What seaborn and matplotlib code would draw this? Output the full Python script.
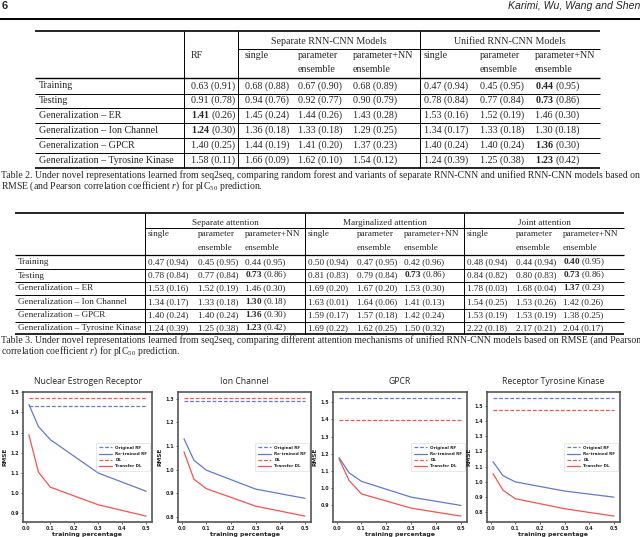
import numpy as np
import pandas as pd
import seaborn as sns
import matplotlib.pyplot as plt

sns.set_style('white')
plt.rcParams['font.family'] = ['Liberation Serif', 'DejaVu Sans']
plt.rcParams['mathtext.fontset'] = 'custom'
plt.rcParams['mathtext.rm'] = 'Liberation Serif'
plt.rcParams['mathtext.it'] = 'Liberation Serif:italic'
plt.rcParams['mathtext.bf'] = 'Liberation Serif:bold'

# ---- table data ("*" marks a bold RMSE) ----
row_labels = ['Training', 'Testing', 'Generalization \u2013 ER', 'Generalization \u2013 Ion Channel',
              'Generalization \u2013 GPCR', 'Generalization \u2013 Tyrosine Kinase']
sub_top = ['single', 'parameter', 'parameter+NN']
sub_bot = ['', 'ensemble', 'ensemble']

t2_groups = ['Separate RNN-CNN Models', 'Unified RNN-CNN Models']
t2_rows = [
    ['0.63 (0.91)', '0.68 (0.88)', '0.67 (0.90)', '0.68 (0.89)', '0.47 (0.94)', '0.45 (0.95)', '*0.44 (0.95)'],
    ['0.91 (0.78)', '0.94 (0.76)', '0.92 (0.77)', '0.90 (0.79)', '0.78 (0.84)', '0.77 (0.84)', '*0.73 (0.86)'],
    ['*1.41 (0.26)', '1.45 (0.24)', '1.44 (0.26)', '1.43 (0.28)', '1.53 (0.16)', '1.52 (0.19)', '1.46 (0.30)'],
    ['*1.24 (0.30)', '1.36 (0.18)', '1.33 (0.18)', '1.29 (0.25)', '1.34 (0.17)', '1.33 (0.18)', '1.30 (0.18)'],
    ['1.40 (0.25)', '1.44 (0.19)', '1.41 (0.20)', '1.37 (0.23)', '1.40 (0.24)', '1.40 (0.24)', '*1.36 (0.30)'],
    ['1.58 (0.11)', '1.66 (0.09)', '1.62 (0.10)', '1.54 (0.12)', '1.24 (0.39)', '1.25 (0.38)', '*1.23 (0.42)'],
]

t3_groups = ['Separate attention', 'Marginalized attention', 'Joint attention']
t3_rows = [
    ['0.47 (0.94)', '0.45 (0.95)', '0.44 (0.95)', '0.50 (0.94)', '0.47 (0.95)', '0.42 (0.96)', '0.48 (0.94)', '0.44 (0.94)', '*0.40 (0.95)'],
    ['0.78 (0.84)', '0.77 (0.84)', '*0.73 (0.86)', '0.81 (0.83)', '0.79 (0.84)', '*0.73 (0.86)', '0.84 (0.82)', '0.80 (0.83)', '*0.73 (0.86)'],
    ['1.53 (0.16)', '1.52 (0.19)', '1.46 (0.30)', '1.69 (0.20)', '1.67 (0.20)', '1.53 (0.30)', '1.78 (0.03)', '1.68 (0.04)', '*1.37 (0.23)'],
    ['1.34 (0.17)', '1.33 (0.18)', '*1.30 (0.18)', '1.63 (0.01)', '1.64 (0.06)', '1.41 (0.13)', '1.54 (0.25)', '1.53 (0.26)', '1.42 (0.26)'],
    ['1.40 (0.24)', '1.40 (0.24)', '*1.36 (0.30)', '1.59 (0.17)', '1.57 (0.18)', '1.42 (0.24)', '1.53 (0.19)', '1.53 (0.19)', '1.38 (0.25)'],
    ['1.24 (0.39)', '1.25 (0.38)', '*1.23 (0.42)', '1.69 (0.22)', '1.62 (0.25)', '1.50 (0.32)', '2.22 (0.18)', '2.17 (0.21)', '2.04 (0.17)'],
]

cap2 = ['Table 2. Under novel representations learned from seq2seq, comparing random forest and variants of separate RNN-CNN and unified RNN-CNN models based on',
        'RMSE (and Pearson correlation coefficient $r$) for pIC$_{50}$ prediction.']
cap3 = ['Table 3. Under novel representations learned from seq2seq, comparing different attention mechanisms of unified RNN-CNN models based on RMSE (and Pearson',
        'correlation coefficient $r$) for pIC$_{50}$ prediction.']

# ---- line plot data ----
pct = [0.01, 0.05, 0.1, 0.3, 0.5]
titles = ['Nuclear Estrogen Receptor', 'Ion Channel', 'GPCR', 'Receptor Tyrosine Kinase']
orig_rf = [1.43, 1.289, 1.525, 1.55]
dl = [1.472, 1.303, 1.395, 1.472]
retrained_rf = [[1.44, 1.33, 1.265, 1.10, 1.01],
                [1.13, 1.04, 0.998, 0.918, 0.879],
                [1.178, 1.09, 1.04, 0.948, 0.90],
                [1.132, 1.041, 1.0, 0.94, 0.90]]
transfer_dl = [[1.29, 1.105, 1.03, 0.943, 0.887],
               [1.075, 0.96, 0.92, 0.846, 0.804],
               [1.17, 1.045, 0.967, 0.884, 0.838],
               [1.054, 0.946, 0.89, 0.824, 0.776]]
models = ['Original RF', 'Re-trained RF', 'DL', 'Transfer DL']
blue, red = '#6379cc', '#f65252'


def cell(s):
    if s.startswith('*'):
        num, rest = s[1:].split(' ', 1)
        return r'$\mathbf{' + num + '}$ ' + rest
    return s


fig = plt.figure(figsize=(6.4, 5.37), dpi=100)
page = fig.add_axes([0, 0, 1, 1])
page.set_xlim(0, 640)
page.set_ylim(537, 0)
page.axis('off')


def hline(x0, x1, y, lw=0.7):
    page.plot([x0, x1], [y, y], color='black', lw=lw, solid_capstyle='butt')


def vline(x, y0, y1, lw=0.7):
    page.plot([x, x], [y0, y1], color='black', lw=lw, solid_capstyle='butt')


# page header
page.text(2, 6, '6', fontsize=8, fontweight='bold', family='Liberation Sans', va='center')
page.text(640, 6, 'Karimi, Wu, Wang and Shen', fontsize=7.6, style='italic',
          family='Liberation Sans', va='center', ha='right')
hline(0, 640, 19, lw=1.4)

# ---- Table 2 ----
fs2 = 7.2
left2, right2 = 35, 600
vx2 = [184, 238, 420]
col2 = [191, 245, 298, 353, 424, 480, 535]
rows_y2 = [86, 100.5, 115.5, 130.5, 145.5, 160.5]
hline(left2, right2, 31, lw=1.2)
page.text((vx2[1] + vx2[2]) / 2, 42, t2_groups[0], fontsize=fs2, ha='center', va='center')
page.text((vx2[2] + right2) / 2, 42, t2_groups[1], fontsize=fs2, ha='center', va='center')
hline(vx2[1], right2, 49)
page.text(col2[0], 56, 'RF', fontsize=fs2, va='center')
for g in range(2):
    for k in range(3):
        x = col2[1 + g * 3 + k]
        page.text(x, 56, sub_top[k], fontsize=fs2, va='center')
        page.text(x, 70, sub_bot[k], fontsize=fs2, va='center')
hline(left2, right2, 78, lw=1.0)
for i, lab in enumerate(row_labels):
    y = rows_y2[i]
    page.text(left2 + 4, y, lab, fontsize=fs2, va='center')
    for j, s in enumerate(t2_rows[i]):
        page.text(col2[j], y, cell(s), fontsize=fs2, va='center')
    if i < len(row_labels) - 1:
        hline(left2, right2, y + 7.5)
hline(left2, right2, 167.5, lw=1.2)
for x in vx2:
    vline(x, 31, 167.5)
page.text(1, 170.5, '\n'.join(cap2), fontsize=7.0, va='top', linespacing=0.95)

# ---- Table 3 ----
fs3 = 6.6
left3, right3 = 15, 624
vx3 = [145, 305, 464]
col3 = [148, 198, 245, 308, 357, 404, 467, 516, 563]
rows_y3 = [262, 275.5, 288.5, 302, 315, 328]
hline(left3, right3, 213, lw=1.2)
bounds = vx3 + [right3]
for g in range(3):
    page.text((bounds[g] + bounds[g + 1]) / 2, 223, t3_groups[g], fontsize=fs3, ha='center', va='center')
    for k in range(3):
        x = col3[g * 3 + k]
        page.text(x, 234.5, sub_top[k], fontsize=fs3, va='center')
        page.text(x, 248, sub_bot[k], fontsize=fs3, va='center')
hline(vx3[0], right3, 228)
hline(left3, right3, 255, lw=0.9)
for i, lab in enumerate(row_labels):
    y = rows_y3[i]
    page.text(left3 + 3, y, lab, fontsize=fs3, va='center')
    for j, s in enumerate(t3_rows[i]):
        page.text(col3[j], y, cell(s), fontsize=fs3, va='center')
    if i < len(row_labels) - 1:
        hline(left3, right3, y + 6.6)
hline(left3, right3, 333.5, lw=1.2)
for x in vx3:
    vline(x, 213, 333.5)
page.text(1, 335, '\n'.join(cap3), fontsize=7.0, va='top', linespacing=0.95)

# ---- line plots ----
boxes = [(23, 152), (178, 311), (333, 467), (487, 620)]
top, bottom = 392, 522
for p in range(4):
    x0, x1 = boxes[p]
    ax = fig.add_axes([x0 / 640, 1 - bottom / 537, (x1 - x0) / 640, (bottom - top) / 537])
    df = pd.DataFrame({
        'pct': pct * 4,
        'rmse': [orig_rf[p]] * len(pct) + retrained_rf[p] + [dl[p]] * len(pct) + transfer_dl[p],
        'model': np.repeat(models, len(pct)),
    })
    sns.lineplot(data=df, x='pct', y='rmse', hue='model', style='model', ax=ax,
                 palette={'Original RF': blue, 'Re-trained RF': blue, 'DL': red, 'Transfer DL': red},
                 dashes={'Original RF': (3, 1.5), 'Re-trained RF': '', 'DL': (3, 1.5), 'Transfer DL': ''},
                 linewidth=0.9)
    ax.set_xticks([0.0, 0.1, 0.2, 0.3, 0.4, 0.5])
    ax.tick_params(labelsize=3.4, length=1.5, width=0.5, pad=1.5, direction='out', bottom=True, left=True)
    for t in ax.get_xticklabels() + ax.get_yticklabels():
        t.set_fontweight('bold')
        t.set_family('DejaVu Sans')
    ax.yaxis.set_major_formatter(plt.FormatStrFormatter('%.1f'))
    ax.xaxis.set_major_formatter(plt.FormatStrFormatter('%.1f'))
    ax.set_xlabel('training percentage', fontsize=4.5, fontweight='bold', family='DejaVu Sans', labelpad=0.5)
    ax.set_ylabel('RMSE', fontsize=4.2, fontweight='bold', family='DejaVu Sans', labelpad=2)
    ax.set_title(titles[p], fontsize=6.2, family='Open Sans', pad=5.5)
    for s in ax.spines.values():
        s.set_color('#555555')
        s.set_linewidth(1.2)
    leg = ax.legend(loc='center right', fontsize=3.0, handlelength=3.2, frameon=True,
                    borderpad=0.6, labelspacing=0.5, handletextpad=0.8)
    leg.get_frame().set_linewidth(0.4)
    for t in leg.get_texts():
        t.set_fontweight('bold')
        t.set_family('DejaVu Sans')

fig.savefig('out.png', dpi=100)
